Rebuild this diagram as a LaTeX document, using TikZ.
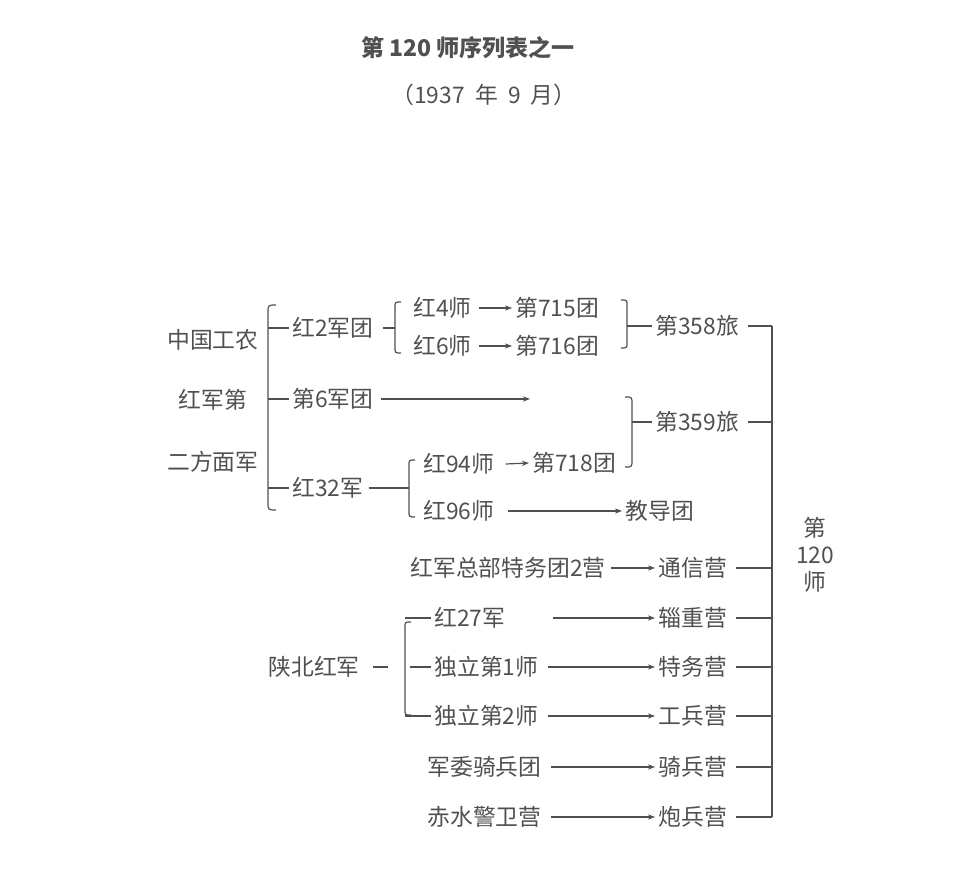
\documentclass[tikz,border=0pt]{standalone}
\usepackage{fontspec}
\setmainfont{Noto Sans CJK SC}
\usetikzlibrary{arrows.meta}
\definecolor{ink}{HTML}{505050}

\begin{document}
\begin{tikzpicture}[x=0.5pt,y=-0.5pt,
    lbl/.style={inner sep=1.5pt, text=ink, font=\fontsize{11.4}{14}\selectfont},
    ln/.style={draw=ink, line width=0.6pt},
    arr/.style={ln, -{Stealth[length=3.5pt,width=2.6pt]}}]
  \useasboundingbox (0,0) rectangle (960,881);

  % Title
  \node[lbl, font=\fontsize{11.5}{14}\selectfont\bfseries] (title) at (468,48) {第 120 师序列表之一};
  \node[lbl] (date) at (484,95) {（1937 \ 年 \ 9 \ 月）};

  % Second front army
  \node[lbl] (zg) at (213,340) {中国工农};
  \node[lbl] (hj) at (213,400) {红军第};
  \node[lbl] (ef) at (213,462) {二方面军};
  \draw[ln] (276,305) .. controls (268,305) .. (268,313) -- (268,502) .. controls (268,510) .. (276,510);

  \node[lbl, anchor=west] (h2) at (289,328) {红2军团};
  \node[lbl, anchor=west] (d6) at (289,399) {第6军团};
  \node[lbl, anchor=west] (h32) at (289,488) {红32军};
  \draw[ln] (268,328) -- (h2.west);
  \draw[ln] (268,399) -- (d6.west);
  \draw[ln] (268,488) -- (h32.west);

  % 2nd army corps
  \draw[ln] (401,302) .. controls (395,302) .. (395,308) -- (395,347) .. controls (395,353) .. (401,353);
  \draw[ln] ([xshift=3pt]h2.east) -- (395,328);
  \node[lbl, anchor=west] (h4) at (410,308) {红4师};
  \node[lbl, anchor=west] (h6) at (410,346) {红6师};
  \node[lbl, anchor=west] (t715) at (512,308) {第715团};
  \node[lbl, anchor=west] (t716) at (512,346) {第716团};
  \draw[arr] ([xshift=2pt]h4.east) -- (t715.west);
  \draw[arr] ([xshift=2pt]h6.east) -- (t716.west);

  \draw[ln] (621,300) .. controls (627,300) .. (627,306) -- (627,342) .. controls (627,348) .. (621,348);
  \node[lbl, anchor=west] (b358) at (652,326) {第358旅};
  \draw[ln] (627,326) -- (b358.west);

  % 6th army corps
  \coordinate (g6) at (530,399);
  \draw[arr] ([xshift=2pt]d6.east) -- (g6);

  % 32nd army
  \draw[ln] (415,460) .. controls (409,460) .. (409,466) -- (409,511) .. controls (409,517) .. (415,517);
  \draw[ln] ([xshift=1pt]h32.east) -- (409,488);
  \node[lbl, anchor=west] (h94) at (420,464) {红94师};
  \node[lbl, anchor=west] (h96) at (420,511) {红96师};
  \node[lbl, anchor=west] (t718) at (529,463) {第718团};
  \node[lbl, anchor=west] (jd) at (622,511) {教导团};
  \draw[arr] ([xshift=4pt]h94.east) -- (t718.west);
  \draw[arr] ([xshift=5pt]h96.east) -- (jd.west);

  \draw[ln] (625,397) .. controls (632,397) .. (632,404) -- (632,460) .. controls (632,467) .. (625,467);
  \node[lbl, anchor=west] (b359) at (652,422) {第359旅};
  \draw[ln] (632,422) -- (b359.west);

  % Battalions
  \node[lbl, anchor=west] (zb) at (407,568) {红军总部特务团2营};
  \node[lbl, anchor=west] (tx) at (655,568) {通信营};
  \node[lbl, anchor=west] (zz) at (655,618) {辎重营};
  \node[lbl, anchor=west] (tw) at (655,667) {特务营};
  \node[lbl, anchor=west] (gb) at (655,716) {工兵营};
  \node[lbl, anchor=west] (qb) at (655,767) {骑兵营};
  \node[lbl, anchor=west] (pb) at (655,817) {炮兵营};
  \draw[arr] ([xshift=1pt]zb.east) -- (tx.west);

  % Shaanbei red army
  \node[lbl, anchor=west] (sb) at (265,667) {陕北红军};
  \coordinate (sbd) at (388,667);
  \draw[ln] ([xshift=5pt]sb.east) -- (sbd);
  \draw[ln] (411,622) .. controls (405,622) .. (405,628) -- (405,709) .. controls (405,715) .. (411,715);
  \node[lbl, anchor=west] (h27) at (431,618) {红27军};
  \node[lbl, anchor=west] (dl1) at (431,667) {独立第1师};
  \node[lbl, anchor=west] (dl2) at (431,716) {独立第2师};
  \draw[ln] (405,618) -- (h27.west);
  \draw[ln] (410,667) -- (dl1.west);
  \draw[ln] (405,716) -- (dl2.west);
  \draw[arr] ([xshift=22pt]h27.east) -- (zz.west);
  \draw[arr] ([xshift=3pt]dl1.east) -- (tw.west);
  \draw[arr] ([xshift=3pt]dl2.east) -- (gb.west);

  \node[lbl, anchor=west] (qbt) at (424,767) {军委骑兵团};
  \node[lbl, anchor=west] (cs) at (424,817) {赤水警卫营};
  \draw[arr] ([xshift=3pt]qbt.east) -- (qb.west);
  \draw[arr] ([xshift=3pt]cs.east) -- (pb.west);

  % 120th division
  \node[lbl, align=center, font=\fontsize{11.4}{13.5}\selectfont] (d120) at (815,555) {第\\120\\师};
  \draw[ln] (772,326) -- (772,817);
  \foreach \n in {b358,b359,tx,zz,tw,gb,qb,pb}
    \draw[ln] ([xshift=3pt]\n.east) -- (\n.east -| 772,0);
\end{tikzpicture}
\end{document}
